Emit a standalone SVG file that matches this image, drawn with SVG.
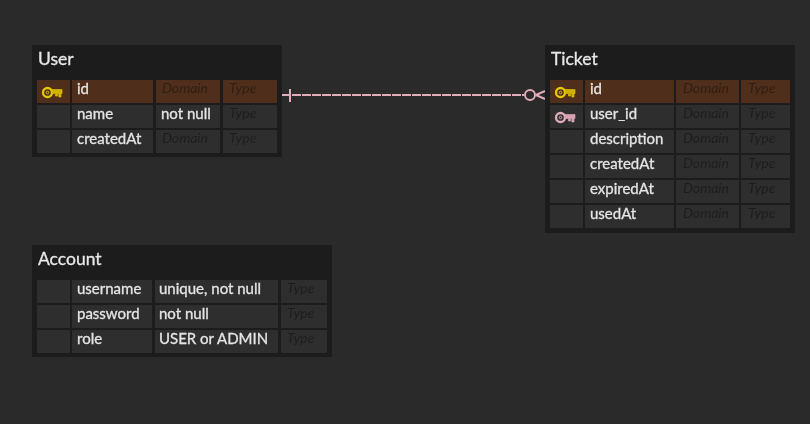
<svg xmlns="http://www.w3.org/2000/svg" width="810" height="424" viewBox="0 0 810 424">
<defs>
<filter id="soft" x="-5%" y="-5%" width="110%" height="110%"><feGaussianBlur stdDeviation="0.5"/></filter>
<g id="keyshape"><circle cx="-4.5" cy="0" r="4.5" fill="none" stroke-width="2.3"/><circle cx="-4.5" cy="0" r="1.3" fill="none" stroke-width="0.9"/><path d="M0 -3H10V1H9V4.5H6.8V1H5.5V3.5H3.5V1H0Z" stroke-width="0.6"/></g>
</defs>
<style>
text{font-family:Lato,"Liberation Sans",sans-serif;}
.box{fill:#1b1b1b;}
.cell{fill:#2e2e2e;}
.pk{fill:#4f2f1a;}
.title{font-size:17.5px;fill:#e8e8e8;stroke:#e8e8e8;stroke-width:.3px;}
.t{font-size:15px;fill:#e4e4e4;stroke:#e4e4e4;stroke-width:.3px;}
.ph{font-size:14px;font-style:italic;fill:#1f1f1f;}
.phk{font-size:14px;font-style:italic;fill:#301f13;}
.kp{fill:#d2b000;stroke:#e6c800;}
.kf{fill:#d8a0ae;stroke:#e3acbb;}
.conn{fill:none;stroke:#e3acbb;stroke-width:2;}
</style>
<rect width="810" height="424" fill="#2a2a2a"/>
<g filter="url(#soft)">
<g id="connectors">
<path class="conn" d="M282 95H524" stroke-dasharray="9 1"/>
<path class="conn" d="M290 89V102"/>
<circle class="conn" cx="530" cy="95" r="5"/>
<path class="conn" d="M536 95L545 91M536 95L545 99"/>
</g>
<g id="node-user">
<rect class="box" x="32" y="45" width="250" height="112"/>
<text class="title" x="38" y="65">User</text>
<rect class="pk" x="37" y="80" width="33" height="23"/><rect class="pk" x="72" y="80" width="81" height="23"/><rect class="pk" x="156" y="80" width="64" height="23"/><rect class="pk" x="223" y="80" width="54" height="23"/>
<use href="#keyshape" class="kp" x="52" y="92.5"/>
<text class="t" x="77" y="94">id</text><text class="phk" x="162" y="93">Domain</text><text class="phk" x="229" y="93">Type</text>
<rect class="cell" x="37" y="105" width="33" height="23"/><rect class="cell" x="72" y="105" width="81" height="23"/><rect class="cell" x="156" y="105" width="64" height="23"/><rect class="cell" x="223" y="105" width="54" height="23"/>
<text class="t" x="77" y="119">name</text><text class="t" x="161" y="119">not null</text><text class="ph" x="229" y="118">Type</text>
<rect class="cell" x="37" y="130" width="33" height="23"/><rect class="cell" x="72" y="130" width="81" height="23"/><rect class="cell" x="156" y="130" width="64" height="23"/><rect class="cell" x="223" y="130" width="54" height="23"/>
<text class="t" x="77" y="144">createdAt</text><text class="ph" x="162" y="143">Domain</text><text class="ph" x="229" y="143">Type</text>
</g>
<g id="node-ticket">
<rect class="box" x="545" y="45" width="250" height="188"/>
<text class="title" x="551" y="65">Ticket</text>
<rect class="pk" x="550" y="80" width="33" height="23"/><rect class="pk" x="585" y="80" width="89" height="23"/><rect class="pk" x="676" y="80" width="63" height="23"/><rect class="pk" x="741" y="80" width="49" height="23"/>
<use href="#keyshape" class="kp" x="565" y="92.5"/>
<text class="t" x="590" y="94">id</text><text class="phk" x="683" y="93">Domain</text><text class="phk" x="748" y="93">Type</text>
<rect class="cell" x="550" y="105" width="33" height="23"/><rect class="cell" x="585" y="105" width="89" height="23"/><rect class="cell" x="676" y="105" width="63" height="23"/><rect class="cell" x="741" y="105" width="49" height="23"/>
<use href="#keyshape" class="kf" x="565" y="117.5"/>
<text class="t" x="590" y="119">user_id</text><text class="ph" x="683" y="118">Domain</text><text class="ph" x="748" y="118">Type</text>
<rect class="cell" x="550" y="130" width="33" height="23"/><rect class="cell" x="585" y="130" width="89" height="23"/><rect class="cell" x="676" y="130" width="63" height="23"/><rect class="cell" x="741" y="130" width="49" height="23"/>
<text class="t" x="590" y="144">description</text><text class="ph" x="683" y="143">Domain</text><text class="ph" x="748" y="143">Type</text>
<rect class="cell" x="550" y="155" width="33" height="23"/><rect class="cell" x="585" y="155" width="89" height="23"/><rect class="cell" x="676" y="155" width="63" height="23"/><rect class="cell" x="741" y="155" width="49" height="23"/>
<text class="t" x="590" y="169">createdAt</text><text class="ph" x="683" y="168">Domain</text><text class="ph" x="748" y="168">Type</text>
<rect class="cell" x="550" y="180" width="33" height="23"/><rect class="cell" x="585" y="180" width="89" height="23"/><rect class="cell" x="676" y="180" width="63" height="23"/><rect class="cell" x="741" y="180" width="49" height="23"/>
<text class="t" x="590" y="194">expiredAt</text><text class="ph" x="683" y="193">Domain</text><text class="ph" x="748" y="193">Type</text>
<rect class="cell" x="550" y="205" width="33" height="23"/><rect class="cell" x="585" y="205" width="89" height="23"/><rect class="cell" x="676" y="205" width="63" height="23"/><rect class="cell" x="741" y="205" width="49" height="23"/>
<text class="t" x="590" y="219">usedAt</text><text class="ph" x="683" y="218">Domain</text><text class="ph" x="748" y="218">Type</text>
</g>
<g id="node-account">
<rect class="box" x="32" y="245" width="300" height="112"/>
<text class="title" x="38" y="265">Account</text>
<rect class="cell" x="37" y="280" width="33" height="23"/><rect class="cell" x="72" y="280" width="80" height="23"/><rect class="cell" x="155" y="280" width="123" height="23"/><rect class="cell" x="281" y="280" width="46" height="23"/>
<text class="t" x="77" y="294">username</text><text class="t" x="159" y="294">unique, not null</text><text class="ph" x="287" y="293">Type</text>
<rect class="cell" x="37" y="305" width="33" height="23"/><rect class="cell" x="72" y="305" width="80" height="23"/><rect class="cell" x="155" y="305" width="123" height="23"/><rect class="cell" x="281" y="305" width="46" height="23"/>
<text class="t" x="77" y="319">password</text><text class="t" x="159" y="319">not null</text><text class="ph" x="287" y="318">Type</text>
<rect class="cell" x="37" y="330" width="33" height="23"/><rect class="cell" x="72" y="330" width="80" height="23"/><rect class="cell" x="155" y="330" width="123" height="23"/><rect class="cell" x="281" y="330" width="46" height="23"/>
<text class="t" x="77" y="344">role</text><text class="t" x="159" y="344">USER or ADMIN</text><text class="ph" x="287" y="343">Type</text>
</g>
</g>
</svg>
